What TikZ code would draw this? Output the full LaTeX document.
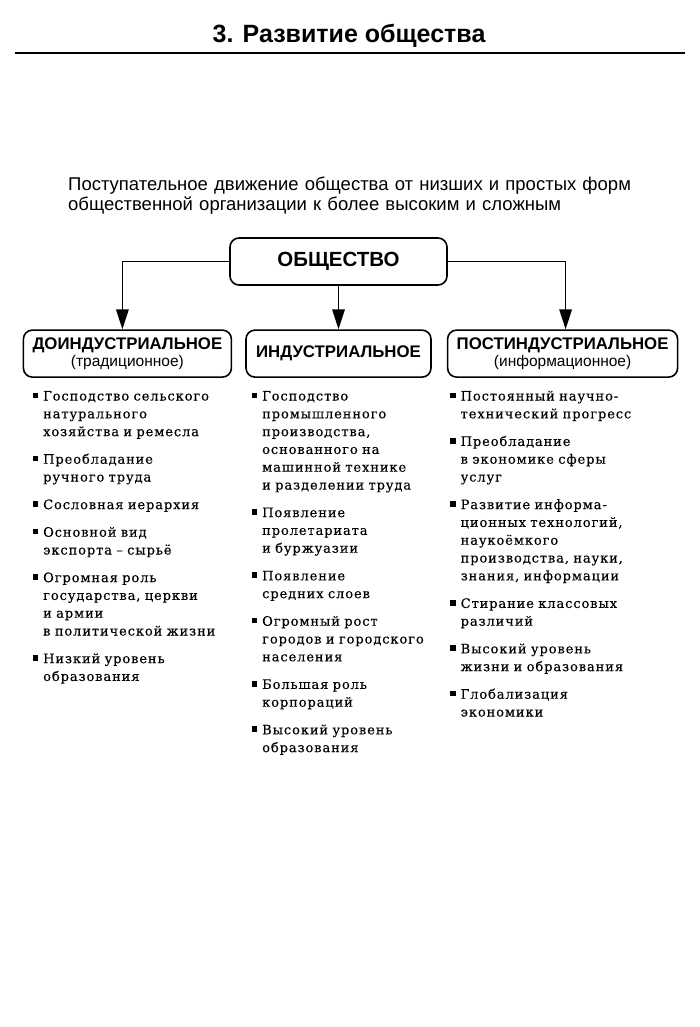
\documentclass[tikz,border=0pt]{standalone}
\usepackage{fontspec}
\setsansfont{Liberation Sans}
\newfontfamily\itemfont{DejaVu Serif}[LetterSpace=7,WordSpace=1.6,FakeBold=0.3]
\usetikzlibrary{arrows.meta,positioning}
\newcommand\sqbullet{\leavevmode\llap{\rule[2.4pt]{5.6pt}{5.6pt}\hspace{5pt}}}
\newcommand\stagehead[1]{{\bfseries\fontsize{16.8}{17}\selectfont #1}}

\begin{document}
\begin{tikzpicture}[x=1pt,y=-1pt,
    node distance=9.4pt,
    stage/.style={draw,line width=1.6pt,rounded corners=9pt,minimum height=47pt,
      align=center,inner sep=0pt,font=\sffamily\fontsize{15.5}{16.5}\selectfont},
    arrow/.style={-{Triangle[length=20pt,width=12.5pt]},line width=1.6pt},
    item/.style={inner sep=0pt,align=left,
      font=\itemfont\fontsize{13}{17.8}\selectfont,
      execute at begin node=\sqbullet\strut,execute at end node=\strut}
  ]
    \useasboundingbox (0,0) rectangle (700,1027);
    \node[anchor=base,font=\sffamily\bfseries\fontsize{25}{28}\selectfont] (title)
      at (349,43) {3. Развитие общества};
    \draw[line width=2.6pt] (15,53) -- (685,53);
    \node[anchor=base west,text width=600pt,align=left,inner sep=0pt,
      font=\sffamily\fontsize{18.5}{20.5}\selectfont] (definition) at (68,190)
      {Поступательное движение общества от низших и простых форм\\
       общественной организации к более высоким и сложным};

    \node[stage,minimum width=217pt] (society) at (338.5,261.5)
      {\bfseries\fontsize{20.5}{22}\selectfont ОБЩЕСТВО};
    \node[stage,minimum width=185pt,below=43.5pt of society] (ind)
      {\stagehead{ИНДУСТРИАЛЬНОЕ}};
    \node[stage,minimum width=208pt,left=13pt of ind] (pre)
      {\stagehead{ДОИНДУСТРИАЛЬНОЕ}\\(традиционное)};
    \node[stage,minimum width=230pt,right=15pt of ind] (post)
      {\stagehead{ПОСТИНДУСТРИАЛЬНОЕ}\\(информационное)};
    \draw[arrow] (society.west) -| ([xshift=-5pt]pre.north);
    \draw[arrow] (society) -- (ind);
    \draw[arrow] (society.east) -| ([xshift=3pt]post.north);

    % доиндустриальное
    \node[item,text width=185pt,anchor=base west] (pre1) at (43,400.5)
      {Господство сельского\\натурального\\хозяйства и ремесла};
    \node[item,text width=185pt,below=of pre1] (pre2) {Преобладание\\ручного труда};
    \node[item,text width=185pt,below=of pre2] (pre3) {Сословная иерархия};
    \node[item,text width=185pt,below=of pre3] (pre4) {Основной вид\\экспорта – сырьё};
    \node[item,text width=185pt,below=of pre4] (pre5)
      {Огромная роль\\государства, церкви\\и армии\\в политической жизни};
    \node[item,text width=185pt,below=of pre5] (pre6) {Низкий уровень\\образования};

    % индустриальное
    \node[item,text width=175pt,anchor=base west] (ind1) at (262,400.5)
      {Господство\\промышленного\\производства,\\основанного на\\машинной технике\\и разделении труда};
    \node[item,text width=175pt,below=of ind1] (ind2) {Появление\\пролетариата\\и буржуазии};
    \node[item,text width=175pt,below=of ind2] (ind3) {Появление\\средних слоев};
    \node[item,text width=175pt,below=of ind3] (ind4)
      {Огромный рост\\городов и городского\\населения};
    \node[item,text width=175pt,below=of ind4] (ind5) {Большая роль\\корпораций};
    \node[item,text width=175pt,below=of ind5] (ind6) {Высокий уровень\\образования};

    % постиндустриальное
    \node[item,text width=205pt,anchor=base west] (post1) at (460.5,400.5)
      {Постоянный научно-\\технический прогресс};
    \node[item,text width=205pt,below=of post1] (post2)
      {Преобладание\\в экономике сферы\\услуг};
    \node[item,text width=205pt,below=of post2] (post3)
      {Развитие информа-\\ционных технологий,\\наукоёмкого\\производства, науки,\\знания, информации};
    \node[item,text width=205pt,below=of post3] (post4) {Стирание классовых\\различий};
    \node[item,text width=205pt,below=of post4] (post5) {Высокий уровень\\жизни и образования};
    \node[item,text width=205pt,below=of post5] (post6) {Глобализация\\экономики};
  \end{tikzpicture}
\end{document}
